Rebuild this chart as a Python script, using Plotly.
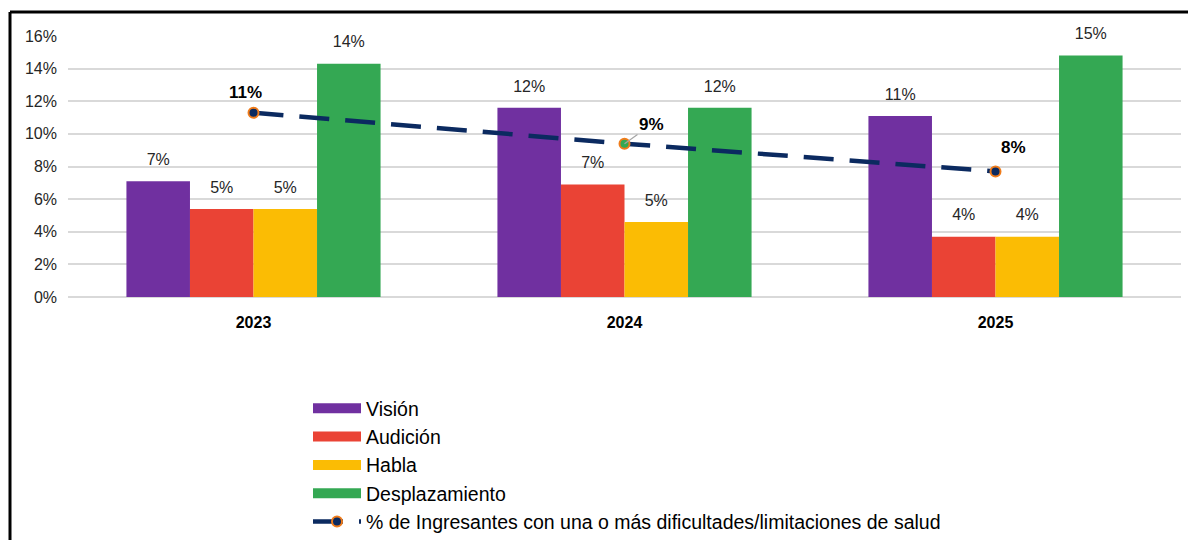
import plotly.graph_objects as go

years = ["2023", "2024", "2025"]
vision = [0.071, 0.116, 0.111]
audicion = [0.054, 0.069, 0.037]
habla = [0.054, 0.046, 0.037]
desplazamiento = [0.143, 0.116, 0.148]
ingresantes = [0.113, 0.094, 0.077]
line_name = "% de Ingresantes con una o más dificultades/limitaciones de salud"

series = [
    ("Visión", vision, "#7030a0"),
    ("Audición", audicion, "#ea4335"),
    ("Habla", habla, "#fbbc04"),
    ("Desplazamiento", desplazamiento, "#34a853"),
]

FONT = "Liberation Sans, Arial, sans-serif"
fig = go.Figure()

for name, vals, col in series:
    fig.add_trace(go.Bar(
        x=years, y=vals, name=name, marker=dict(color=col, line=dict(width=0)),
        showlegend=False, legendgroup=name, offsetgroup=name,
    ))
    # data labels, grouped the same way as the bars
    fig.add_trace(go.Scatter(
        x=years, y=vals, mode="markers+text", offsetgroup=name, legendgroup=name,
        text=[f"{v:.0%}" for v in vals], textposition="top center",
        marker=dict(size=18, opacity=0), cliponaxis=False, hoverinfo="skip",
        textfont=dict(size=16, color="#262626", family=FONT), showlegend=False,
    ))
    # legend swatch (wide bar-like key)
    fig.add_trace(go.Scatter(
        x=[None], y=[None], mode="lines", name=name, legendgroup=name,
        xaxis="x2", offsetgroup="L",
        line=dict(color=col, width=11), showlegend=True,
    ))

fig.add_trace(go.Scatter(
    x=years, y=ingresantes, name=line_name, mode="lines+markers",
    xaxis="x2", offsetgroup="L",
    line=dict(color="#0b2a60", width=4.5, dash="30px,16px"),
    marker=dict(size=10, color=["#0b2a60", "#34a853", "#0b2a60"],
                line=dict(color="#f07c1b", width=2)),
    cliponaxis=False,
))

# line data labels (category index positions)
fig.add_annotation(x=0, y=ingresantes[0], text=f"<b>{ingresantes[0]:.0%}</b>",
                   showarrow=False, xshift=-8, yshift=20,
                   font=dict(size=17, color="#000", family=FONT))
fig.add_annotation(x=1, y=ingresantes[1], text=f"<b>{ingresantes[1]:.0%}</b>",
                   showarrow=True, arrowhead=0, arrowwidth=1.2, arrowcolor="#a6a6a6",
                   ax=27, ay=-19, font=dict(size=17, color="#000", family=FONT))
fig.add_annotation(x=2, y=ingresantes[2], text=f"<b>{ingresantes[2]:.0%}</b>",
                   showarrow=False, xshift=18, yshift=24,
                   font=dict(size=17, color="#000", family=FONT))

# frame lines (left and top)
L, T, R, B = 68, 36, 1181, 297
def px(xp):
    return (xp - L) / (R - L)
def py(yp):
    return (B - yp) / (B - T)
fig.add_shape(type="line", xref="paper", yref="paper", x0=px(10), x1=px(10), y0=py(12), y1=py(545),
              line=dict(color="#000", width=3))
fig.add_shape(type="line", xref="paper", yref="paper", x0=px(10), x1=px(1195), y0=py(12), y1=py(12),
              line=dict(color="#000", width=3))

fig.update_layout(
    width=1188, height=540,
    margin=dict(l=L, r=1188 - R, t=T, b=540 - B, pad=0, autoexpand=False),
    paper_bgcolor="white", plot_bgcolor="white",
    barmode="group", bargap=0.315, bargroupgap=0,
    scattermode="group", scattergap=0.315,
    font=dict(family=FONT, color="#000"),
    legend=dict(x=px(308), y=py(389), xanchor="left", yanchor="top",
                font=dict(size=19.5, color="#000", family=FONT),
                bgcolor="rgba(0,0,0,0)", tracegroupgap=0, itemwidth=48),
    xaxis=dict(type="category", range=[-0.5, 2.5], showline=False, ticks="",
               tickfont=dict(size=16, family=FONT, color="#000"), ticklabelstandoff=14,
               tickprefix="<b>", ticksuffix="</b>"),
    xaxis2=dict(type="category", range=[-0.5, 2.5], overlaying="x", visible=False,
                categoryorder="array", categoryarray=years),
    yaxis=dict(range=[0, 0.16], dtick=0.02, tickformat=".0%", showgrid=True,
               gridcolor="#d9d9d9", gridwidth=2, zeroline=True, zerolinecolor="#d9d9d9",
               zerolinewidth=2, ticks="", ticklabelstandoff=10,
               tickfont=dict(size=16, family=FONT, color="#262626")),
)

fig.write_html("out.html", config={"displayModeBar": False},
               post_script="document.body.style.margin='0';document.body.style.overflow='hidden';")
